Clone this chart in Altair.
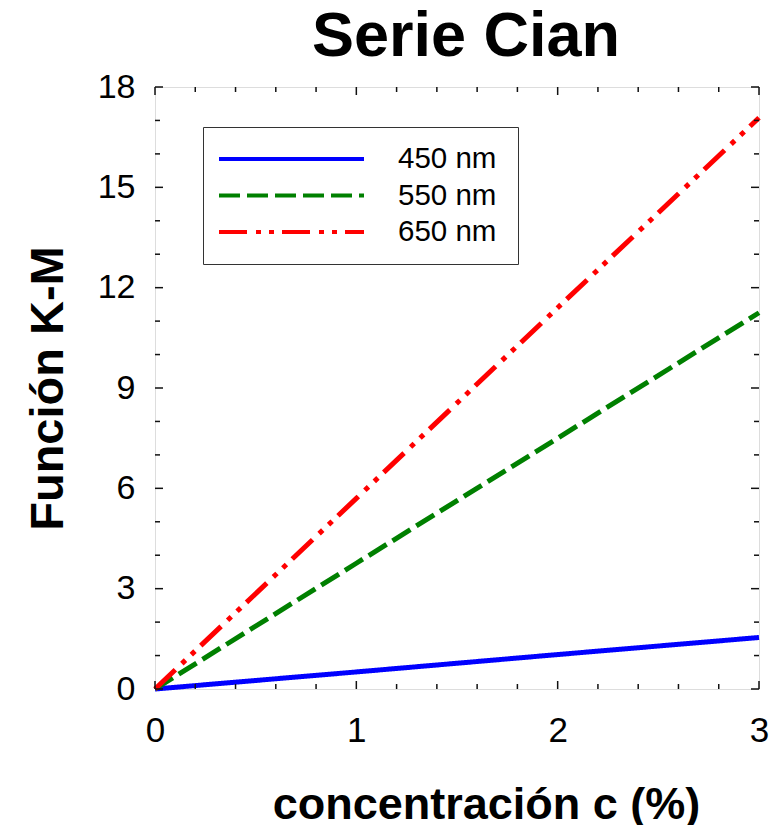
import altair as alt
import pandas as pd

# ---- data ----
conc = [0, 1, 2, 3]
km_450 = [0.0, 0.51, 1.03, 1.54]
km_550 = [0.0, 3.76, 7.5, 11.25]
km_650 = [0.0, 5.7, 11.4, 17.08]
series_names = ["450 nm", "550 nm", "650 nm"]
series_colors = ["#0000FF", "#008000", "#FF0000"]
series_dash = [[1, 0], [21, 7], [28, 9, 5, 8, 5, 8]]

x_major = [0, 1, 2, 3]
x_minor = [0.2, 0.4, 0.6, 0.8, 1.2, 1.4, 1.6, 1.8, 2.2, 2.4, 2.6, 2.8]
y_major = [0, 3, 6, 9, 12, 15, 18]
y_minor = [1, 2, 4, 5, 7, 8, 10, 11, 13, 14, 16, 17]

FONT = "Liberation Sans"
W, H = 604, 602

rows = []
for name, vals in zip(series_names, [km_450, km_550, km_650]):
    for c, v in zip(conc, vals):
        rows.append({"c": c, "km": v, "serie": name})
df = pd.DataFrame(rows)

xs = alt.Scale(domain=[0, 3], nice=False, zero=False)
ys = alt.Scale(domain=[0, 18], nice=False, zero=False)

lines = alt.Chart(df).mark_line(strokeWidth=5, strokeCap="butt", clip=False).encode(
    x=alt.X("c:Q", scale=xs,
            axis=alt.Axis(values=x_major, title="concentración c (%)", ticks=False, domain=False,
                          grid=False, labelFontSize=35, labelFont=FONT, labelColor="#000",
                          labelPadding=24, labelFlush=False, format="d",
                          titleFontSize=45, titleFont=FONT, titleFontWeight="bold", titleColor="#000",
                          titleBaseline="alphabetic", titleX=331, titleY=129, titleAnchor="middle")),
    y=alt.Y("km:Q", scale=ys,
            axis=alt.Axis(values=y_major, title="Función K-M", ticks=False, domain=False,
                          grid=False, labelFontSize=34, labelFont=FONT, labelColor="#000",
                          labelPadding=20, labelFlush=False, format="d",
                          titleFontSize=47, titleFont=FONT, titleFontWeight="bold", titleColor="#000",
                          titleBaseline="alphabetic", titleAngle=270, titleX=-93, titleY=301,
                          titleAnchor="middle")),
    color=alt.Color("serie:N", sort=series_names,
                    scale=alt.Scale(domain=series_names, range=series_colors),
                    legend=alt.Legend(title=" ", titleOrient="right", titlePadding=8,
                                      orient="none", legendX=48, legendY=40,
                                      symbolType="stroke", symbolSize=145 * 145, symbolStrokeWidth=4,
                                      labelFontSize=29.5, labelFont=FONT, labelColor="#000",
                                      labelOffset=32, clipHeight=36, rowPadding=0.5, padding=14,
                                      strokeColor="#333", fillColor="white")),
    strokeDash=alt.StrokeDash("serie:N", sort=series_names,
                              scale=alt.Scale(domain=series_names, range=series_dash),
                              legend=None),
)

tick_color = "#111"

def vticks(vals, y0, y1):
    return alt.Chart(pd.DataFrame({"c": vals})).mark_rule(color=tick_color, strokeWidth=1.5).encode(
        x=alt.X("c:Q", scale=xs), y=alt.value(y0), y2=alt.value(y1))

def hticks(vals, x0, x1):
    return alt.Chart(pd.DataFrame({"km": vals})).mark_rule(color=tick_color, strokeWidth=1.5).encode(
        y=alt.Y("km:Q", scale=ys), x=alt.value(x0), x2=alt.value(x1))

ticks = [
    vticks(x_major, H, H - 8), vticks(x_minor, H, H - 5),
    vticks(x_major, 0, 8), vticks(x_minor, 0, 5),
    hticks(y_major, 0, 8), hticks(y_minor, 0, 5),
    hticks(y_major, W, W - 8), hticks(y_minor, W, W - 5),
]

chart = alt.layer(lines, *ticks).properties(
    width=W, height=H,
    title=alt.Title("Serie Cian", fontSize=63, font=FONT, fontWeight="bold", color="#000",
                    anchor="middle", dx=9, offset=1),
    autosize=alt.AutoSizeParams(type="none"),
    padding={"left": 147, "top": 79, "right": 10, "bottom": 136},
).configure_view(stroke="#000", strokeWidth=1.5).configure(background="white")

chart.save("out.html", embed_options={"renderer": "svg", "actions": False})
